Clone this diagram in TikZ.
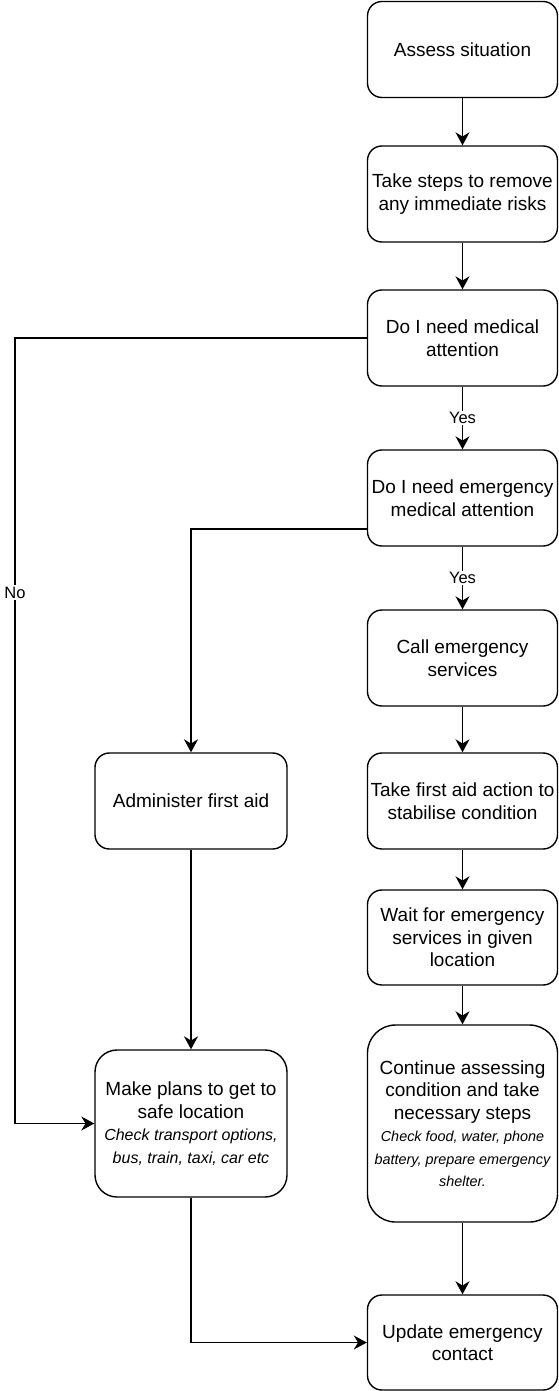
\documentclass[tikz,border=0pt]{standalone}
\usepackage{fontspec}
\setmainfont{Liberation Sans}
\usetikzlibrary{arrows.meta}
\usetikzlibrary{calc}

\newcommand{\smallnote}[1]{{\fontsize{14.4}{22.5}\selectfont\itshape #1}}
\newcommand{\plannote}[1]{{\fontsize{16}{22.5}\selectfont\itshape #1}}

\begin{document}
\begin{tikzpicture}[x=1pt,y=-1pt]
    \useasboundingbox (0,0) rectangle (559,1391);

    \begin{scope} [every node/.style={draw,line width=1.4pt,rounded corners=14.4pt,align=center,
            minimum width=190pt,minimum height=96pt,inner sep=0pt,
            font=\fontsize{19}{22.5}\selectfont}]
        \node (assess) at (462.5,49.5) {Assess situation};
        \node (risks) at (462.5,194) {Take steps to remove\\any immediate risks};
        \node (medical) at (462.5,338) {Do I need medical\\attention};
        \node (emerg) at (462.5,498) {Do I need emergency\\medical attention};
        \node (call) at (462.5,658) {Call emergency\\services};
        \node (stabilise) at (462.5,801) {Take first aid action to\\stabilise condition};
        \node (wait) at (462.5,937.5) [minimum height=95pt] {Wait for emergency\\services in given\\location};
        \node (continue) at (462.5,1123.5) [minimum height=197pt,rounded corners=28pt]
            {Continue assessing\\condition and take\\necessary steps\\
             \smallnote{Check food, water, phone}\\\smallnote{battery, prepare emergency}\\\smallnote{shelter.}};
        \node (update) at (462.5,1342.5) [minimum height=95pt] {Update emergency\\contact};
        \node (firstaid) at (191,801) [minimum width=192pt] {Administer first aid};
        \node (plans) at (191,1123.5) [minimum width=192pt,minimum height=147pt,rounded corners=22pt]
            {Make plans to get to\\safe location\\
             \plannote{Check transport options,}\\\plannote{bus, train, taxi, car etc}};
    \end{scope}

    \coordinate (nocorner) at (15,338);
    \coordinate (aidexit) at ([yshift=-31pt]emerg.west);

    \begin{scope}[>={Stealth[length=13pt,width=14pt]}, line width=1.4pt,
            every node/.style={fill=white,inner sep=1.5pt,font=\fontsize{16.5}{18}\selectfont}]
        \path [->] (assess) edge (risks);
        \path [->] (risks) edge (medical);
        \path [->] (medical) edge node {Yes} (emerg);
        \path [->] (emerg) edge node {Yes} (call);
        \path [->] (call) edge (stabilise);
        \path [->] (stabilise) edge (wait);
        \path [->] (wait) edge (continue);
        \path [->] (continue) edge (update);
        \path [->] (firstaid) edge (plans);
        \draw [->] (medical.west) -- (nocorner) -- node[pos=0.324] {No} (nocorner |- plans.west) -- (plans.west);
        \draw [->] (aidexit) -| (firstaid.north);
        \draw [->] (plans.south) |- (update.west);
    \end{scope}
\end{tikzpicture}
\end{document}
